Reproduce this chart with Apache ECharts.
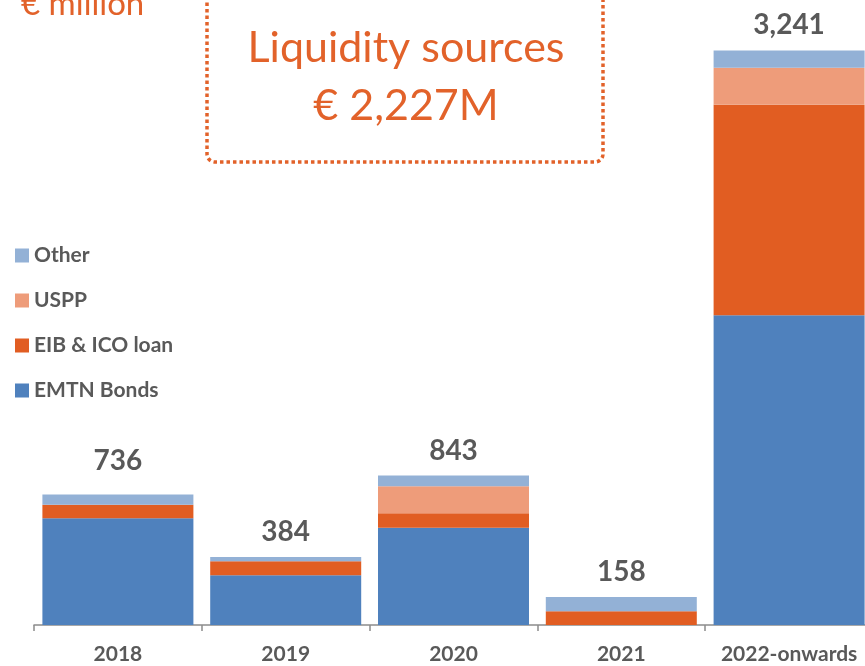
<!DOCTYPE html>
<html>
<head>
<meta charset="utf-8">
<script src="https://cdn.jsdelivr.net/npm/echarts@6/dist/echarts.min.js"></script>
<style>
  html, body { margin: 0; padding: 0; background: #fff; }
  #chart { width: 865px; height: 666px; }
</style>
</head>
<body>
<div id="chart"></div>
<script>
// categories and values (€ million)
var years = ["2018", "2019", "2020", "2021", "2022-onwards"];
var emtnBonds = [602, 280, 548, 0, 1748];
var eibIcoLoan = [76, 79, 83, 78, 1187];
var uspp = [0, 0, 151, 0, 209];
var other = [58, 25, 61, 80, 97];
var totals = [736, 384, 843, 158, 3241];

var grey = "#595959";
var orange = "#E2622A";
var font = "Lato";

var chart = echarts.init(document.getElementById("chart"));

function fmt(n) {
  return n.toString().replace(/\B(?=(\d{3})+(?!\d))/g, ",");
}

var option = {
  backgroundColor: "#fff",
  animation: false,
  textStyle: { fontFamily: font },
  grid: { left: 34, width: 839, top: 40, bottom: 41, outerBoundsMode: "none", containLabel: false },
  legend: {
    orient: "vertical",
    left: 15,
    top: 245,
    padding: 0,
    itemWidth: 14,
    itemHeight: 14,
    itemGap: 24,
    icon: "rect",
    selectedMode: false,
    data: ["Other", "USPP", "EIB & ICO loan", "EMTN Bonds"],
    textStyle: { color: grey, fontSize: 21, fontWeight: "bold", fontFamily: font }
  },
  xAxis: {
    type: "category",
    data: years,
    axisLine: { lineStyle: { color: "#8c8c8c", width: 1.5 } },
    axisTick: { show: true, length: 6, lineStyle: { color: "#8c8c8c", width: 1.5 } },
    axisLabel: { interval: 0, color: grey, fontSize: 21, fontWeight: "bold", fontFamily: font, margin: 19 }
  },
  yAxis: {
    type: "value",
    min: 0,
    max: 3300,
    show: false,
    splitLine: { show: false }
  },
  graphic: [
    {
      type: "text",
      x: 21,
      y: 4,
      style: { text: "€ million", fill: orange, font: "33px " + font, align: "left", verticalAlign: "middle" }
    },
    {
      type: "rect",
      shape: { x: 207, y: -20, width: 396, height: 182, r: 8 },
      style: { fill: "none", stroke: orange, lineWidth: 3.5, lineDash: [3.5, 3] }
    },
    {
      type: "text",
      x: 406,
      y: 48,
      style: { text: "Liquidity sources", fill: orange, font: "43px " + font, align: "center", verticalAlign: "middle" }
    },
    {
      type: "text",
      x: 406,
      y: 106,
      style: { text: "€ 2,227M", fill: orange, font: "43px " + font, align: "center", verticalAlign: "middle" }
    }
  ],
  series: [
    {
      name: "EMTN Bonds",
      type: "bar",
      stack: "all",
      barWidth: 151,
      itemStyle: { color: "#4F81BD" },
      data: emtnBonds
    },
    {
      name: "EIB & ICO loan",
      type: "bar",
      stack: "all",
      itemStyle: { color: "#E15D22" },
      data: eibIcoLoan
    },
    {
      name: "USPP",
      type: "bar",
      stack: "all",
      itemStyle: { color: "#EE9C7A" },
      data: uspp
    },
    {
      name: "Other",
      type: "bar",
      stack: "all",
      itemStyle: { color: "#93B1D6" },
      label: {
        show: true,
        position: "top",
        distance: 11,
        color: grey,
        fontSize: 28,
        fontWeight: "bold",
        fontFamily: font,
        formatter: function (p) { return fmt(totals[p.dataIndex]); }
      },
      data: other.map(function (v, i) {
        return i === 0 ? { value: v, label: { distance: 20 } } : v;
      })
    }
  ]
};

chart.setOption(option);
</script>
</body>
</html>
